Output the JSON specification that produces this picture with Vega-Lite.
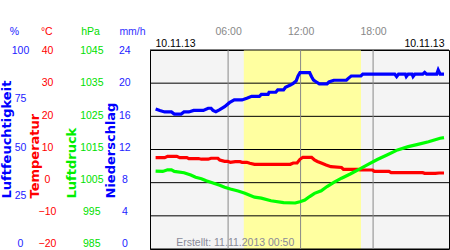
{
  "$schema": "https://vega.github.io/schema/vega-lite/v6.json",
  "width": 299,
  "height": 199,
  "autosize": {"type": "none"},
  "padding": {"left": 150, "top": 50, "right": 1, "bottom": 1},
  "background": "white",
  "config": {
    "view": {"fill": "#f4f4f4", "stroke": "#000000", "strokeWidth": 1},
    "axis": {
      "grid": false, "ticks": false, "tickSize": 0, "domain": false,
      "labelFont": "Liberation Sans", "labelFontSize": 10.5, "labelPadding": 0, "labelOverlap": false,
      "titleFont": "Liberation Sans", "titleFontSize": 10.5, "titleFontWeight": "normal", "titlePadding": 0
    }
  },
  "datasets": {
    "day": [{"start": 7.3, "end": 17.0}],
    "grid": [{"g": 0}, {"g": 1}, {"g": 2}, {"g": 3}, {"g": 4}, {"g": 5}, {"g": 6}],
    "hours": [{"t": 6}, {"t": 12}, {"t": 18}],
    "precip": [
      {"h": 0, "mm": 0}, {"h": 1, "mm": 0}, {"h": 2, "mm": 0}, {"h": 3, "mm": 0}, {"h": 4, "mm": 0}, {"h": 5, "mm": 0},
      {"h": 6, "mm": 0}, {"h": 7, "mm": 0}, {"h": 8, "mm": 0}, {"h": 9, "mm": 0}, {"h": 10, "mm": 0}, {"h": 11, "mm": 0},
      {"h": 12, "mm": 0}, {"h": 13, "mm": 0}, {"h": 14, "mm": 0}, {"h": 15, "mm": 0}, {"h": 16, "mm": 0}, {"h": 17, "mm": 0},
      {"h": 18, "mm": 0}, {"h": 19, "mm": 0}, {"h": 20, "mm": 0}, {"h": 21, "mm": 0}, {"h": 22, "mm": 0}, {"h": 23, "mm": 0}
    ],
    "hum": [
      {"h": 0, "v": 69.8}, {"h": 0.35, "v": 69.0}, {"h": 0.75, "v": 68.3}, {"h": 1.31, "v": 68.3}, {"h": 1.55, "v": 67.2},
      {"h": 2.11, "v": 67.2}, {"h": 2.35, "v": 68.3}, {"h": 2.75, "v": 68.3}, {"h": 3.15, "v": 69.1}, {"h": 3.95, "v": 69.1},
      {"h": 4.35, "v": 70.2}, {"h": 4.59, "v": 70.2}, {"h": 4.75, "v": 69.1}, {"h": 4.99, "v": 68.4}, {"h": 5.31, "v": 69.5},
      {"h": 5.71, "v": 71.0}, {"h": 6.11, "v": 73.1}, {"h": 6.51, "v": 74.5}, {"h": 7.15, "v": 74.5}, {"h": 7.55, "v": 75.4},
      {"h": 7.95, "v": 76.4}, {"h": 8.59, "v": 76.4}, {"h": 8.75, "v": 77.4}, {"h": 9.31, "v": 77.4}, {"h": 9.39, "v": 78.5},
      {"h": 9.95, "v": 78.5}, {"h": 10.11, "v": 79.7}, {"h": 10.59, "v": 79.7}, {"h": 10.75, "v": 81.1}, {"h": 11.15, "v": 82.2},
      {"h": 11.39, "v": 83.1}, {"h": 11.63, "v": 84.3}, {"h": 11.79, "v": 86.9}, {"h": 11.95, "v": 88.6}, {"h": 12.75, "v": 88.6},
      {"h": 12.91, "v": 86.5}, {"h": 13.07, "v": 84.8}, {"h": 13.31, "v": 83.8}, {"h": 13.55, "v": 82.8}, {"h": 14.19, "v": 82.8},
      {"h": 14.35, "v": 83.8}, {"h": 14.75, "v": 84.7}, {"h": 15.79, "v": 84.7}, {"h": 15.95, "v": 85.7}, {"h": 16.19, "v": 86.9},
      {"h": 16.99, "v": 86.9}, {"h": 17.15, "v": 87.9}, {"h": 19.79, "v": 87.9}, {"h": 19.95, "v": 86.6}, {"h": 20.11, "v": 87.9},
      {"h": 20.67, "v": 87.9}, {"h": 20.75, "v": 86.6}, {"h": 20.91, "v": 87.9}, {"h": 21.23, "v": 87.9}, {"h": 21.31, "v": 86.6},
      {"h": 21.47, "v": 87.9}, {"h": 22.11, "v": 87.9}, {"h": 22.27, "v": 88.8}, {"h": 22.43, "v": 87.9}, {"h": 23.27, "v": 87.9},
      {"h": 23.39, "v": 90.0}, {"h": 23.55, "v": 87.9}, {"h": 23.87, "v": 87.9}
    ],
    "temp": [
      {"h": 0, "t": 6.8}, {"h": 0.75, "t": 6.8}, {"h": 0.99, "t": 7.2}, {"h": 1.75, "t": 7.2}, {"h": 2.0, "t": 6.8},
      {"h": 2.59, "t": 6.8}, {"h": 2.75, "t": 6.5}, {"h": 3.55, "t": 6.5}, {"h": 3.79, "t": 6.3}, {"h": 4.35, "t": 6.3},
      {"h": 4.59, "t": 6.6}, {"h": 5.15, "t": 6.6}, {"h": 5.31, "t": 6.05}, {"h": 5.71, "t": 5.65}, {"h": 5.95, "t": 5.65},
      {"h": 6.19, "t": 5.34}, {"h": 6.59, "t": 5.53}, {"h": 6.99, "t": 5.53}, {"h": 7.15, "t": 5.34}, {"h": 7.55, "t": 5.34},
      {"h": 7.79, "t": 5.03}, {"h": 8.19, "t": 4.72}, {"h": 11.15, "t": 4.72}, {"h": 11.39, "t": 5.12}, {"h": 11.71, "t": 5.12},
      {"h": 11.95, "t": 6.27}, {"h": 12.19, "t": 6.9}, {"h": 12.91, "t": 6.9}, {"h": 13.15, "t": 6.05}, {"h": 13.39, "t": 5.6},
      {"h": 13.71, "t": 5.12}, {"h": 14.11, "t": 4.5}, {"h": 14.51, "t": 3.97}, {"h": 15.39, "t": 3.72}, {"h": 15.55, "t": 3.16},
      {"h": 16.75, "t": 3.16}, {"h": 16.91, "t": 2.95}, {"h": 17.95, "t": 2.95}, {"h": 18.1, "t": 2.54}, {"h": 19.31, "t": 2.54},
      {"h": 19.5, "t": 2.11}, {"h": 22.11, "t": 2.11}, {"h": 22.27, "t": 1.92}, {"h": 23.15, "t": 1.92}, {"h": 23.47, "t": 2.02},
      {"h": 23.87, "t": 2.02}
    ],
    "press": [
      {"h": 0, "p": 1007.6}, {"h": 0.59, "p": 1007.5}, {"h": 0.99, "p": 1008.0}, {"h": 1.31, "p": 1008.0}, {"h": 1.55, "p": 1007.5},
      {"h": 2.35, "p": 1007.1}, {"h": 2.91, "p": 1006.4}, {"h": 3.31, "p": 1005.7}, {"h": 3.79, "p": 1005.25}, {"h": 4.19, "p": 1004.6},
      {"h": 4.75, "p": 1003.9}, {"h": 5.31, "p": 1003.2}, {"h": 5.71, "p": 1002.6}, {"h": 6.19, "p": 1002.05}, {"h": 6.83, "p": 1001.4},
      {"h": 7.39, "p": 1000.7}, {"h": 7.79, "p": 1000.1}, {"h": 8.19, "p": 999.5}, {"h": 8.75, "p": 999.2}, {"h": 9.55, "p": 998.4},
      {"h": 10.59, "p": 997.8}, {"h": 11.55, "p": 997.7}, {"h": 11.95, "p": 998.1}, {"h": 12.35, "p": 998.6}, {"h": 12.75, "p": 999.7},
      {"h": 13.15, "p": 1000.7}, {"h": 13.71, "p": 1001.5}, {"h": 14.19, "p": 1002.8}, {"h": 14.75, "p": 1004.1}, {"h": 15.39, "p": 1005.4},
      {"h": 16.11, "p": 1006.7}, {"h": 16.91, "p": 1008.3}, {"h": 17.63, "p": 1009.8}, {"h": 18.35, "p": 1011.2}, {"h": 19.15, "p": 1012.6},
      {"h": 20.03, "p": 1014.2}, {"h": 20.91, "p": 1015.2}, {"h": 21.71, "p": 1015.9}, {"h": 22.59, "p": 1016.7}, {"h": 23.55, "p": 1017.8},
      {"h": 23.87, "p": 1018.0}
    ]
  },
  "resolve": {"scale": {"y": "independent"}, "axis": {"x": "independent", "y": "independent"}},
  "layer": [
    {
      "data": {"name": "day"},
      "mark": {"type": "rect", "color": "#ffffa0"},
      "encoding": {
        "x": {"field": "start", "type": "quantitative", "scale": {"domain": [-0.05, 23.87], "nice": false, "zero": false},
          "axis": {"orient": "top", "values": [-0.05, 23.87], "labelExpr": "'10.11.13'", "labelFlush": false,
            "labelAlign": {"condition": {"test": "datum.value < 12", "value": "left"}, "value": "right"},
            "labelColor": "#000000", "labelBaseline": "alphabetic", "labelPadding": 3.3, "title": null}},
        "x2": {"field": "end"}
      }
    },
    {
      "data": {"name": "grid"},
      "mark": {"type": "rule", "color": "#000000", "strokeWidth": 1},
      "encoding": {
        "y": {"field": "g", "type": "quantitative", "scale": {"domain": [0, 6], "nice": false, "zero": false},
          "axis": {"orient": "left", "labels": false, "title": "Erstellt: 11.11.2013 00:50", "titleAngle": 0, "titleX": 84.7, "titleY": 195, "titleAlign": "center", "titleBaseline": "alphabetic", "titleColor": "#8a8a99", "zindex": 1}}
      }
    },
    {
      "data": {"name": "hours"},
      "mark": {"type": "rule", "color": "#888888", "strokeWidth": 1},
      "encoding": {
        "x": {"field": "t", "type": "quantitative", "scale": {"domain": [-0.05, 23.87], "nice": false, "zero": false},
          "axis": {"orient": "top", "values": [6, 12, 18], "labelExpr": "(datum.value < 10 ? '0' : '') + datum.value + ':00'", "labelColor": "#888888", "labelBaseline": "alphabetic", "labelAlign": "center", "labelPadding": 16, "title": null}}
      }
    },
    {
      "data": {"name": "precip"},
      "mark": {"type": "bar", "color": "#0000ff"},
      "encoding": {
        "x": {"field": "h", "type": "quantitative", "scale": {"domain": [-0.05, 23.87], "nice": false, "zero": false},
          "axis": {"orient": "top", "labels": false, "title": "mm/h", "titleX": -18, "titleY": -16, "titleAngle": 0, "titleAlign": "center", "titleBaseline": "alphabetic", "titleColor": "#3333ff"}},
        "y": {"field": "mm", "type": "quantitative", "scale": {"domain": [-0.63, 24.09], "nice": false, "zero": false},
          "axis": {"orient": "left", "offset": 25.7, "values": [0, 4, 8, 12, 16, 20, 24], "format": "d", "labelAlign": "center", "labelBaseline": "middle", "labelColor": "#2222ff",
            "title": "Niederschlag", "titleAngle": 270, "titleX": -9.8, "titleY": 148, "titleAlign": "left", "titleBaseline": "alphabetic", "titleColor": "#0000ff", "titleFont": "DejaVu Sans", "titleFontSize": 13, "titleFontWeight": "bold"}}
      }
    },
    {
      "data": {"name": "hum"},
      "mark": {"type": "line", "color": "#0000ff", "strokeWidth": 3.2},
      "encoding": {
        "x": {"field": "h", "type": "quantitative", "scale": {"domain": [-0.05, 23.87], "nice": false, "zero": false},
          "axis": {"orient": "top", "labels": false, "title": "%", "titleX": -136.2, "titleY": -16, "titleAngle": 0, "titleAlign": "center", "titleBaseline": "alphabetic", "titleColor": "#2222ff"}},
        "y": {"field": "v", "type": "quantitative", "scale": {"domain": [-2.64, 100.36], "nice": false, "zero": false},
          "axis": {"orient": "left", "offset": 130, "values": [0, 25, 50, 75, 100], "format": "d", "labelAlign": "center", "labelBaseline": "middle", "labelColor": "#2222ff",
            "title": "Luftfeuchtigkeit", "titleAngle": 270, "titleX": -9.5, "titleY": 148, "titleAlign": "left", "titleBaseline": "alphabetic", "titleColor": "#0000ff", "titleFont": "DejaVu Sans", "titleFontSize": 13, "titleFontWeight": "bold"}}
      }
    },
    {
      "data": {"name": "temp"},
      "mark": {"type": "line", "color": "#ff0000", "strokeWidth": 3.2},
      "encoding": {
        "x": {"field": "h", "type": "quantitative", "scale": {"domain": [-0.05, 23.87], "nice": false, "zero": false},
          "axis": {"orient": "top", "labels": false, "title": "°C", "titleX": -103.7, "titleY": -16, "titleAngle": 0, "titleAlign": "center", "titleBaseline": "alphabetic", "titleColor": "#ff0000"}},
        "y": {"field": "t", "type": "quantitative", "scale": {"domain": [-21.59, 40.22], "nice": false, "zero": false},
          "axis": {"orient": "left", "offset": 103, "values": [-20, -10, 0, 10, 20, 30, 40], "format": "d", "labelAlign": "center", "labelBaseline": "middle", "labelColor": "#ff0000",
            "title": "Temperatur", "titleAngle": 270, "titleX": -9, "titleY": 148, "titleAlign": "left", "titleBaseline": "alphabetic", "titleColor": "#ff0000", "titleFont": "DejaVu Sans", "titleFontSize": 13, "titleFontWeight": "bold"}}
      }
    },
    {
      "data": {"name": "press"},
      "mark": {"type": "line", "color": "#00ff00", "strokeWidth": 3.2},
      "encoding": {
        "x": {"field": "h", "type": "quantitative", "scale": {"domain": [-0.05, 23.87], "nice": false, "zero": false},
          "axis": {"orient": "top", "labels": false, "title": "hPa", "titleX": -60, "titleY": -16, "titleAngle": 0, "titleAlign": "center", "titleBaseline": "alphabetic", "titleColor": "#00dd00"}},
        "y": {"field": "p", "type": "quantitative", "scale": {"domain": [983.41, 1045.22], "nice": false, "zero": false},
          "axis": {"orient": "left", "offset": 58.7, "values": [985, 995, 1005, 1015, 1025, 1035, 1045], "format": "d", "labelAlign": "center", "labelBaseline": "middle", "labelColor": "#00e000",
            "title": "Luftdruck", "titleAngle": 270, "titleX": -16.3, "titleY": 148, "titleAlign": "left", "titleBaseline": "alphabetic", "titleColor": "#00ee00", "titleFont": "DejaVu Sans", "titleFontSize": 13, "titleFontWeight": "bold"}}
      }
    }
  ]
}
